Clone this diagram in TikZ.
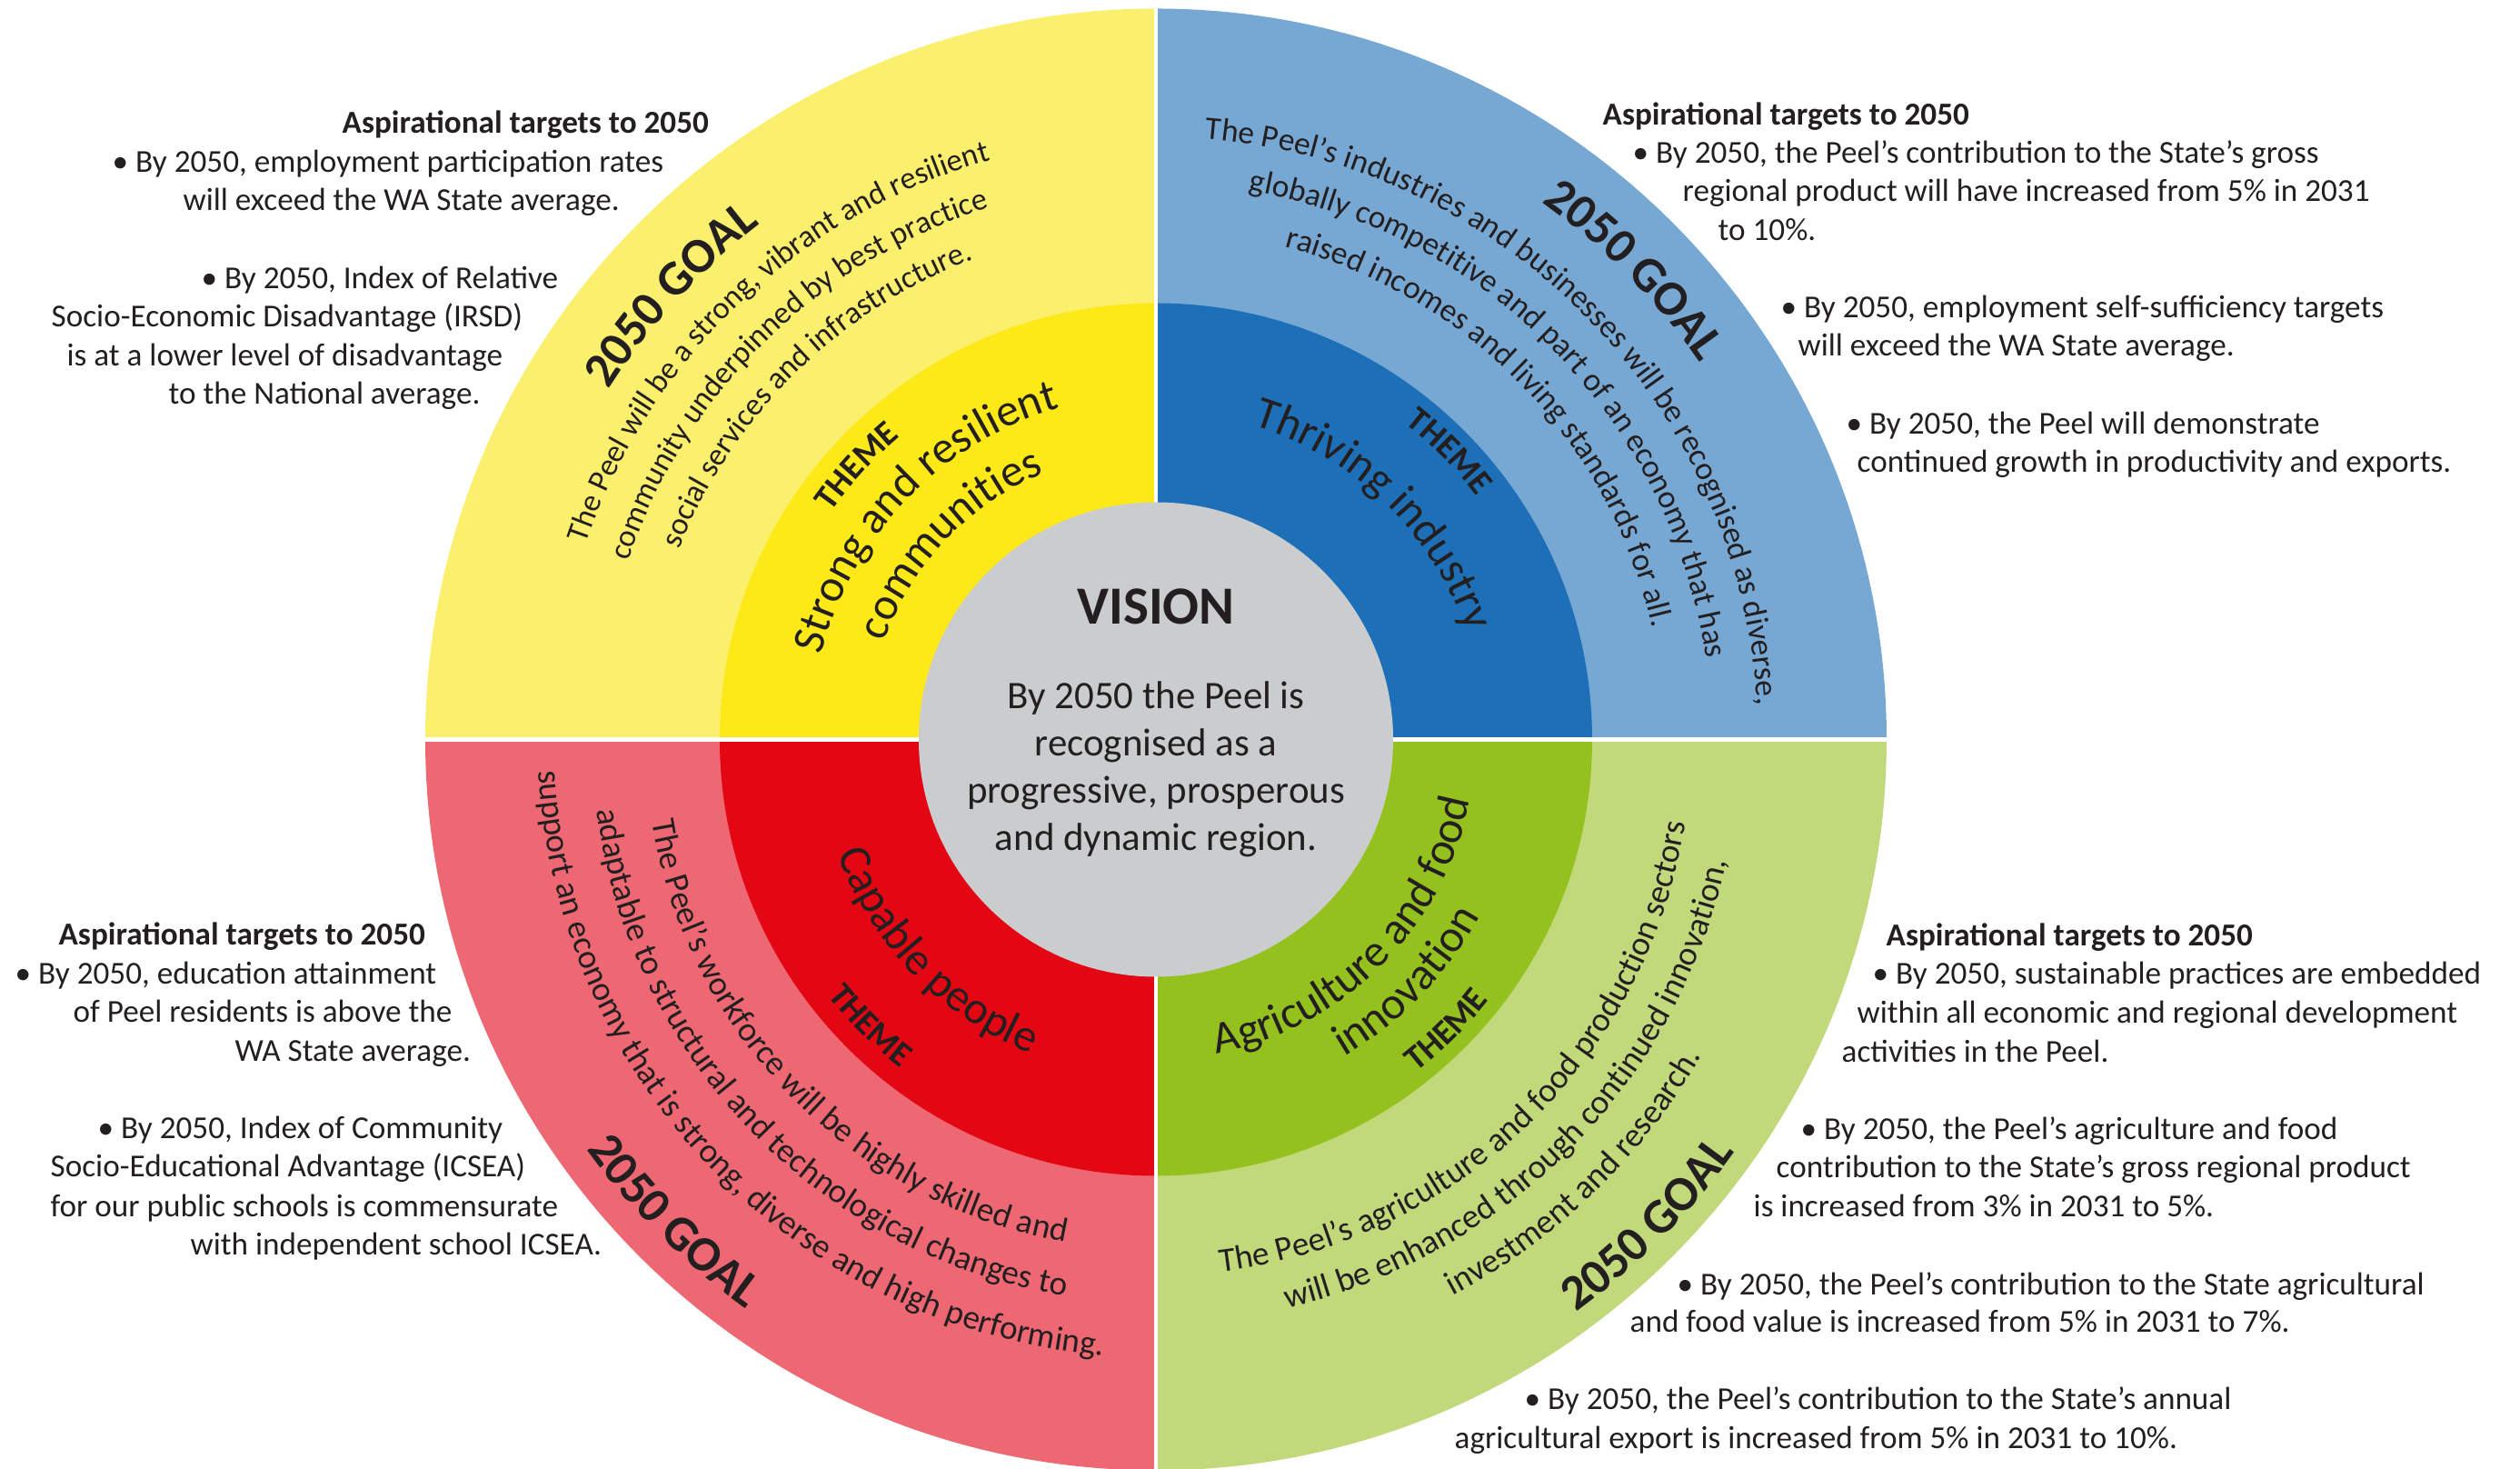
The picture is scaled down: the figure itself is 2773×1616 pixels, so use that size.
\documentclass[tikz,border=0pt]{standalone}
\usepackage{fontspec}
\setmainfont{Carlito}
\usetikzlibrary{positioning,decorations.text}

\definecolor{ringyellow}{RGB}{251,239,110}
\definecolor{themeyellow}{RGB}{252,233,23}
\definecolor{ringblue}{RGB}{119,168,212}
\definecolor{themeblue}{RGB}{29,112,183}
\definecolor{ringgreen}{RGB}{193,217,123}
\definecolor{themegreen}{RGB}{149,193,31}
\definecolor{ringred}{RGB}{238,104,115}
\definecolor{themered}{RGB}{227,6,19}
\definecolor{visiongray}{RGB}{203,204,206}
\definecolor{inkdark}{RGB}{35,31,32}

\newcommand\goalheadfont{\fontsize{15.4}{18}\selectfont\bfseries}
\newcommand\goalbodyfont{\fontsize{9.8}{12}\selectfont}
\newcommand\goalbluefont{\fontsize{10.1}{12}\selectfont}
\newcommand\goallowerfont{\fontsize{10.6}{13}\selectfont}
\newcommand\themelabelfont{\fontsize{10.8}{13}\selectfont\bfseries}
\newcommand\themetitlefont{\fontsize{14.2}{17}\selectfont}

\begin{document}
\begin{tikzpicture}[x=0.01cm, y=0.01cm,
    % Curved text in the rings
    arc text/.style={
        decorate,
        decoration={text along path, text align=center, text color=inkdark, text={#1}}
    },
    % Targets beside the wheel
    target line/.style={
        font=\fontsize{10}{12}\selectfont,
        text=inkdark,
        anchor=base west,
        inner sep=0pt
    },
    target head/.style={
        target line,
        font=\fontsize{10}{12}\selectfont\bfseries
    },
    % White cuts between quadrants
    gap line/.style={
        draw=white,
        line width=0.045cm
    }
]

\useasboundingbox (-1272,-802.5) rectangle (1501,813.5);
\coordinate (c) at (0,0);

% Rings
\foreach \a/\ring/\theme in {90/ringyellow/themeyellow, 0/ringblue/themeblue,
                             270/ringgreen/themegreen, 180/ringred/themered} {
    \fill[\ring] (c) -- ++(\a:804) arc[start angle=\a, end angle=\a+90, radius=804] -- cycle;
    \fill[\theme] (c) -- ++(\a:480) arc[start angle=\a, end angle=\a+90, radius=480] -- cycle;
}
\draw[gap line] (c) ++(180:810) -- ++(0:1620);
\draw[gap line] (c) ++(270:810) -- ++(90:1620);

% Vision
\fill[visiongray] (c) circle[radius=261];
\node[font=\fontsize{16.8}{20}\selectfont\bfseries, text=inkdark, anchor=base] (vision) at (0,126.5) {VISION};
\node[font=\fontsize{12.2}{14.8}\selectfont, text=inkdark, align=center] (visiontext) at (0,-32.5)
    {By 2050 the Peel is\\recognised as a\\progressive, prosperous\\and dynamic region.};

% Strong and resilient communities (clockwise, tops outward)
\path[arc text={|\goalheadfont|2050 GOAL}] (c) ++(177.5:715) arc[start angle=177.5, end angle=97.5, radius=715];
\path[arc text={|\goalbodyfont|The Peel will be a strong, vibrant and resilient}] (c) ++(183.5:663) arc[start angle=183.5, end angle=83.5, radius=663];
\path[arc text={|\goalbodyfont|community underpinned by best practice}] (c) ++(184.4:613) arc[start angle=184.4, end angle=84.4, radius=613];
\path[arc text={|\goalbodyfont|social services and infrastructure.}] (c) ++(184.5:565) arc[start angle=184.5, end angle=84.5, radius=565];
\path[arc text={|\themelabelfont|THEME}] (c) ++(177.6:436) arc[start angle=177.6, end angle=97.6, radius=436];
\path[arc text={|\themetitlefont|Strong and resilient}] (c) ++(186:380) arc[start angle=186, end angle=86, radius=380];
\path[arc text={|\themetitlefont|communities}] (c) ++(186.5:318) arc[start angle=186.5, end angle=86.5, radius=318];

% Thriving industry (clockwise, tops outward)
\path[arc text={|\goalheadfont|2050 GOAL}] (c) ++(84.5:728) arc[start angle=84.5, end angle=4.5, radius=728];
\path[arc text={|\goalbluefont|The Peel’s industries and businesses will be recognised as diverse,}] (c) ++(94.3:663) arc[start angle=94.3, end angle=-5.7, radius=663];
\path[arc text={|\goalbluefont|globally competitive and part of an economy that has}] (c) ++(94.4:612) arc[start angle=94.4, end angle=-5.6, radius=612];
\path[arc text={|\goalbluefont|raised incomes and living standards for all.}] (c) ++(94:560) arc[start angle=94, end angle=-6, radius=560];
\path[arc text={|\themelabelfont|THEME}] (c) ++(84.5:443) arc[start angle=84.5, end angle=4.5, radius=443];
\path[arc text={|\themetitlefont|Thriving industry}] (c) ++(96:362) arc[start angle=96, end angle=-4, radius=362];

% Capable people (counter-clockwise, tops inward)
\path[arc text={|\themetitlefont|Capable people}] (c) ++(174:372) arc[start angle=174, end angle=274, radius=372];
\path[arc text={|\themelabelfont|THEME}] (c) ++(185:458) arc[start angle=185, end angle=265, radius=458];
\path[arc text={|\goallowerfont|The Peel’s workforce will be highly skilled and}] (c) ++(174.5:562) arc[start angle=174.5, end angle=274.5, radius=562];
\path[arc text={|\goallowerfont|adaptable to structural and technological changes to}] (c) ++(174:620) arc[start angle=174, end angle=274, radius=620];
\path[arc text={|\goallowerfont|support an economy that is strong, diverse and high performing.}] (c) ++(174:680) arc[start angle=174, end angle=274, radius=680];
\path[arc text={|\goalheadfont|2050 GOAL}] (c) ++(185:772) arc[start angle=185, end angle=265, radius=772];

% Agriculture and food innovation (counter-clockwise, tops inward)
\path[arc text={|\themetitlefont|Agriculture and food}] (c) ++(265:352) arc[start angle=265, end angle=365, radius=352];
\path[arc text={|\themetitlefont|innovation}] (c) ++(266:406) arc[start angle=266, end angle=366, radius=406];
\path[arc text={|\themelabelfont|THEME}] (c) ++(275:465) arc[start angle=275, end angle=355, radius=465];
\path[arc text={|\goallowerfont|The Peel’s agriculture and food production sectors}] (c) ++(264:590) arc[start angle=264, end angle=364, radius=590];
\path[arc text={|\goallowerfont|will be enhanced through continued innovation,}] (c) ++(265.5:642) arc[start angle=265.5, end angle=365.5, radius=642];
\path[arc text={|\goallowerfont|investment and research.}] (c) ++(264:694) arc[start angle=264, end angle=364, radius=694];
\path[arc text={|\goalheadfont|2050 GOAL}] (c) ++(275.4:782) arc[start angle=275.4, end angle=355.4, radius=782];

\begin{scope}[shift={(-1272,813.5)}, y=-0.01cm]
% Aspirational targets, top left
\node[target head] (tlhead) at (376,147) {Aspirational targets to 2050};
\foreach \x/\y/\t [count=\i] in {
    123/190/{• By 2050, employment participation rates},
    201/232/{will exceed the WA State average.},
    221/318/{• By 2050, Index of Relative},
    56/360/{Socio-Economic Disadvantage (IRSD)},
    73/403/{is at a lower level of disadvantage},
    185/445/{to the National average.}}
    \node[target line] (tl\i) at (\x,\y) {\t};

% Aspirational targets, top right
\node[target head] (trhead) at (1763,138) {Aspirational targets to 2050};
\foreach \x/\y/\t [count=\i] in {
    1796/180/{• By 2050, the Peel’s contribution to the State’s gross},
    1851/222/{regional product will have increased from 5\% in 2031},
    1890/265/{to 10\%.},
    1959/350/{• By 2050, employment self-sufficiency targets},
    1978/392/{will exceed the WA State average.},
    2031/478/{• By 2050, the Peel will demonstrate},
    2043/520/{continued growth in productivity and exports.}}
    \node[target line] (tr\i) at (\x,\y) {\t};

% Aspirational targets, bottom left
\node[target head] (blhead) at (64,1040) {Aspirational targets to 2050};
\foreach \x/\y/\t [count=\i] in {
    16/1083/{• By 2050, education attainment},
    80/1125/{of Peel residents is above the},
    258/1168/{WA State average.},
    107/1253/{• By 2050, Index of Community},
    55/1295/{Socio-Educational Advantage (ICSEA)},
    55/1338/{for our public schools is commensurate},
    209/1380/{with independent school ICSEA.}}
    \node[target line] (bl\i) at (\x,\y) {\t};

% Aspirational targets, bottom right
\node[target head] (brhead) at (2075,1041) {Aspirational targets to 2050};
\foreach \x/\y/\t [count=\i] in {
    2060/1083/{• By 2050, sustainable practices are embedded},
    2043/1126/{within all economic and regional development},
    2026/1169/{activities in the Peel.},
    1981/1254/{• By 2050, the Peel’s agriculture and food},
    1954/1296/{contribution to the State’s gross regional product},
    1929/1339/{is increased from 3\% in 2031 to 5\%.},
    1845/1424/{• By 2050, the Peel’s contribution to the State agricultural},
    1793/1465/{and food value is increased from 5\% in 2031 to 7\%.},
    1677/1550/{• By 2050, the Peel’s contribution to the State’s annual},
    1600/1593/{agricultural export is increased from 5\% in 2031 to 10\%.}}
    \node[target line] (br\i) at (\x,\y) {\t};
\end{scope}

\end{tikzpicture}
\end{document}
